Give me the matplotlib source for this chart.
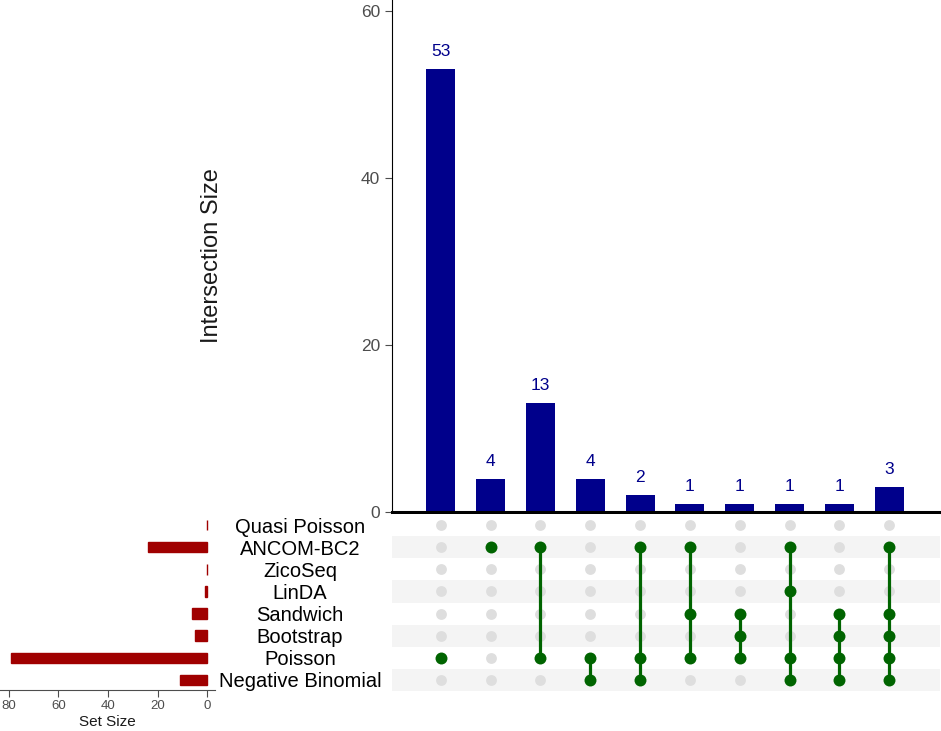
import matplotlib
matplotlib.use('Agg')
import matplotlib.pyplot as plt

plt.rcParams['font.family'] = ['Liberation Sans', 'DejaVu Sans']

# ---- data ----
set_names = ["Quasi Poisson", "ANCOM-BC2", "ZicoSeq", "LinDA",
             "Sandwich", "Bootstrap", "Poisson", "Negative Binomial"]
set_sizes = [0, 24, 0, 1, 6, 5, 79, 11]
intersection_sizes = [53, 4, 13, 4, 2, 1, 1, 1, 1, 3]
intersection_members = [
    ["Poisson"],
    ["ANCOM-BC2"],
    ["ANCOM-BC2", "Poisson"],
    ["Poisson", "Negative Binomial"],
    ["ANCOM-BC2", "Poisson", "Negative Binomial"],
    ["ANCOM-BC2", "Sandwich", "Poisson"],
    ["Sandwich", "Bootstrap", "Poisson"],
    ["ANCOM-BC2", "LinDA", "Poisson", "Negative Binomial"],
    ["Sandwich", "Bootstrap", "Poisson", "Negative Binomial"],
    ["ANCOM-BC2", "Sandwich", "Bootstrap", "Poisson", "Negative Binomial"],
]
size_ticks = [80, 60, 40, 20, 0]
main_ticks = [0, 20, 40, 60]

# ---- styles ----
W, H = 941, 731
bar_color = "#00008B"
set_color = "#A00000"
dot_on = "#006400"
dot_off = "#DEDEDE"
stripe = "#F4F4F4"
tick_grey = "#4D4D4D"

fig = plt.figure(figsize=(W / 100, H / 100), dpi=100)

def fx(px):
    return px / W

def fy(px):
    return 1 - px / H

n_sets = len(set_names)
n_int = len(intersection_sizes)
xs = list(range(n_int))
row_y = {name: n_sets - 1 - i for i, name in enumerate(set_names)}
xlim = (-0.98, n_int + 0.02)

# main bars
ax_top = fig.add_axes([fx(392), fy(512), fx(940 - 392), 512 / H])
ax_top.bar(xs, intersection_sizes, width=0.58, color=bar_color, zorder=2)
for x, v in zip(xs, intersection_sizes):
    ax_top.text(x, v + 1.2, str(v), ha='center', va='bottom',
                fontsize=12.5, color=bar_color)
ax_top.set_xlim(*xlim)
ax_top.set_ylim(0, 61.3)
ax_top.set_yticks(main_ticks)
ax_top.set_xticks([])
ax_top.tick_params(axis='y', labelsize=12.5, labelcolor=tick_grey,
                   color=tick_grey, length=5, width=0.8)
for s in ['top', 'right']:
    ax_top.spines[s].set_visible(False)
ax_top.spines['left'].set_linewidth(0.8)
ax_top.spines['bottom'].set_linewidth(2.2)
ax_top.set_ylabel("Intersection Size", fontsize=17, color='#1A1A1A')
ax_top.yaxis.set_label_coords((223 - 392) / (940 - 392), 0.5)

# matrix
ax_m = fig.add_axes([fx(392), fy(691), fx(940 - 392), (691 - 514) / H])
ax_m.set_xlim(*xlim)
ax_m.set_ylim(-0.5, n_sets - 0.5)
for i, name in enumerate(set_names):
    if i % 2 == 1:
        y = row_y[name]
        ax_m.axhspan(y - 0.5, y + 0.5, color=stripe, zorder=0, lw=0)
for x, members in zip(xs, intersection_members):
    for name in set_names:
        if name not in members:
            ax_m.plot(x, row_y[name], 'o', ms=7.8, color=dot_off,
                      mec='none', zorder=2)
    ys = [row_y[m] for m in members]
    ax_m.plot([x, x], [min(ys), max(ys)], '-', color=dot_on, lw=2.3, zorder=3)
    ax_m.plot([x] * len(ys), ys, 'o', ms=8.6, color=dot_on, mec='none', zorder=4)
ax_m.set_xticks([])
ax_m.set_yticks([row_y[n] for n in set_names])
ax_m.set_yticklabels(set_names, ha='center', fontsize=14.5, color='black')
ax_m.tick_params(axis='y', length=0, pad=(392 - 300) * 0.72)
for s in ax_m.spines.values():
    s.set_visible(False)

# set size bars
ax_s = fig.add_axes([fx(0), fy(690), fx(215), (690 - 514) / H])
ax_s.barh([row_y[n] for n in set_names], set_sizes, height=0.47,
          color=set_color, edgecolor=set_color, linewidth=1)
ax_s.set_xlim(83.6, -3.2)
ax_s.set_ylim(-0.5 + 0.045, n_sets - 0.5)
ax_s.set_yticks([])
ax_s.set_xticks(size_ticks)
ax_s.tick_params(axis='x', labelsize=9.5, labelcolor=tick_grey,
                 color=tick_grey, length=5, width=0.8, pad=2)
for s in ['top', 'right', 'left']:
    ax_s.spines[s].set_visible(False)
ax_s.spines['bottom'].set_color(tick_grey)
ax_s.spines['bottom'].set_linewidth(0.8)
ax_s.set_xlabel("Set Size", fontsize=11, color='#1A1A1A', labelpad=2)

fig.savefig("out.png", dpi=100)
